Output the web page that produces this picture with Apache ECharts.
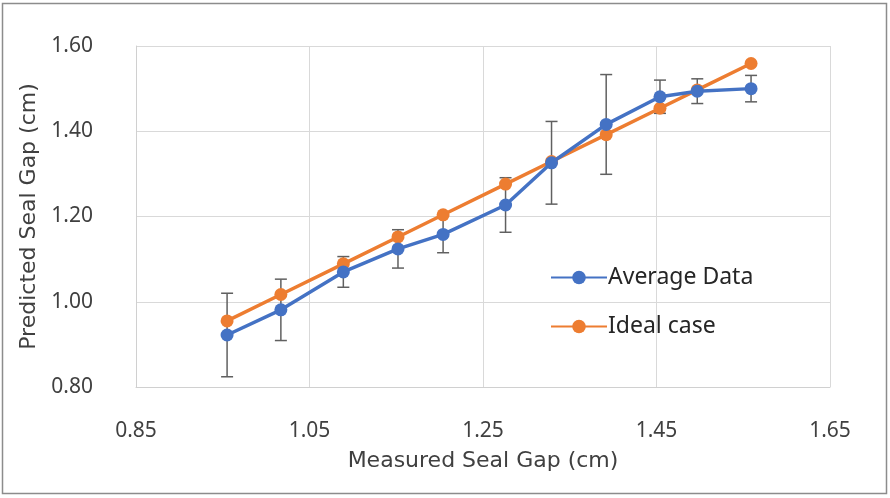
<!DOCTYPE html>
<html><head><meta charset="utf-8">
<script src="https://cdn.jsdelivr.net/npm/echarts@6/dist/echarts.min.js"></script>
<style>html,body{margin:0;padding:0;background:#fff}#c{width:890px;height:498px}</style>
</head><body><div id="c"></div>
<script>
const measured = [0.955, 1.017, 1.089, 1.152, 1.204, 1.276, 1.329, 1.392, 1.454, 1.497, 1.559];
const averageData = [0.922, 0.981, 1.070, 1.124, 1.158, 1.227, 1.326, 1.416, 1.481, 1.494, 1.500];
const idealCase = [0.955, 1.017, 1.089, 1.152, 1.204, 1.276, 1.329, 1.392, 1.454, 1.497, 1.559];
const errorAmount = [0.098, 0.072, 0.036, 0.045, 0.043, 0.064, 0.097, 0.117, 0.039, 0.029, 0.031];
const xTicks = {min: 0.85, max: 1.65, interval: 0.2};
const yTicks = {min: 0.8, max: 1.6, interval: 0.2};

const font = '"Noto Sans", "Open Sans", sans-serif';
const nameFont = '"DejaVu Sans", "Noto Sans", sans-serif';
const avgPts = measured.map((x, i) => [x, averageData[i]]);
const idealPts = measured.map((x, i) => [x, idealCase[i]]);
const errPts = measured.map((x, i) => [x, averageData[i] - errorAmount[i], averageData[i] + errorAmount[i]]);

const chart = echarts.init(document.getElementById('c'));
chart.setOption({
  animation: false,
  backgroundColor: '#fff',
  textStyle: {fontFamily: font},
  grid: {left: 136, right: 60, top: 46, bottom: 111},
  graphic: [{type: 'rect', shape: {x: 2.5, y: 3.5, width: 884, height: 490}, style: {fill: 'none', stroke: '#8c8c8c', lineWidth: 1.5}, silent: true}],
  legend: {
    data: ['Average Data', 'Ideal case'],
    orient: 'vertical', left: 545, top: 261, itemGap: 26,
    itemWidth: 56, itemHeight: 17,
    textStyle: {fontFamily: font, fontSize: 23, color: '#262626', padding: [0, 0, 0, -4]}
  },
  xAxis: {
    type: 'value', min: xTicks.min, max: xTicks.max, interval: xTicks.interval,
    name: 'Measured Seal Gap (cm)', nameLocation: 'middle', nameGap: 63,
    nameTextStyle: {fontSize: 22, color: '#404040', fontFamily: nameFont},
    axisLine: {show: true, lineStyle: {color: '#d0d0d0'}},
    axisTick: {show: false},
    splitLine: {show: true, lineStyle: {color: '#d9d9d9'}},
    axisLabel: {formatter: v => v.toFixed(2), fontSize: 21, color: '#404040', margin: 34, fontFamily: font}
  },
  yAxis: {
    type: 'value', min: yTicks.min, max: yTicks.max, interval: yTicks.interval,
    name: 'Predicted Seal Gap (cm)', nameLocation: 'middle', nameGap: 91,
    nameTextStyle: {fontSize: 22, color: '#404040', fontFamily: nameFont},
    axisLine: {show: true, lineStyle: {color: '#d0d0d0'}},
    axisTick: {show: false},
    splitLine: {show: true, lineStyle: {color: '#d9d9d9'}},
    axisLabel: {formatter: v => v.toFixed(2), fontSize: 21, color: '#404040', margin: 43, fontFamily: font}
  },
  series: [
    {
      name: 'errors', type: 'custom', z: 1, silent: true,
      data: errPts,
      encode: {x: 0, y: [1, 2]},
      renderItem: function (params, api) {
        const x = api.value(0);
        const lo = api.coord([x, api.value(1)]);
        const hi = api.coord([x, api.value(2)]);
        const w = 6;
        const st = {stroke: '#606060', lineWidth: 1.5};
        return {type: 'group', children: [
          {type: 'line', shape: {x1: lo[0], y1: lo[1], x2: hi[0], y2: hi[1]}, style: st},
          {type: 'line', shape: {x1: lo[0] - w, y1: lo[1], x2: lo[0] + w, y2: lo[1]}, style: st},
          {type: 'line', shape: {x1: hi[0] - w, y1: hi[1], x2: hi[0] + w, y2: hi[1]}, style: st}
        ]};
      }
    },
    {
      name: 'Average Data', type: 'line', z: 3, data: avgPts,
      symbol: 'circle', symbolSize: 13,
      lineStyle: {color: '#4472C4', width: 3.5},
      itemStyle: {color: '#4472C4'}
    },
    {
      name: 'Ideal case', type: 'line', z: 2, data: idealPts,
      symbol: 'circle', symbolSize: 13,
      lineStyle: {color: '#ED7D31', width: 3.5},
      itemStyle: {color: '#ED7D31'}
    }
  ]
});
</script></body></html>
